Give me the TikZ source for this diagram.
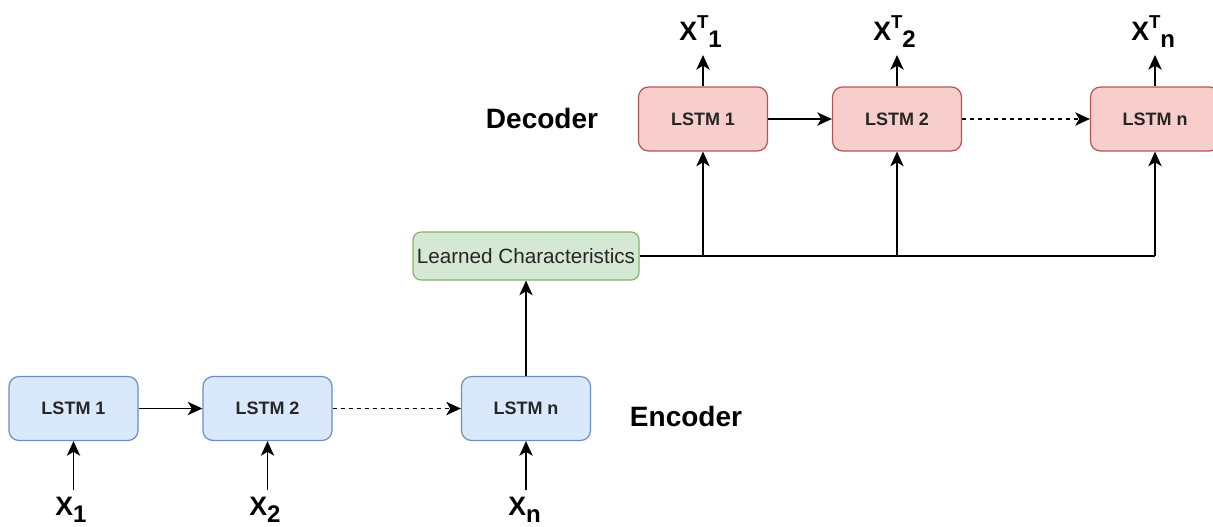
\documentclass[tikz,border=0pt]{standalone}
\usepackage{fontspec}
\setmainfont{Liberation Sans}
\usetikzlibrary{arrows.meta}
\definecolor{encfill}{HTML}{DAE8FC}
\definecolor{encdraw}{HTML}{6C8EBF}
\definecolor{decfill}{HTML}{F8CECC}
\definecolor{decdraw}{HTML}{B85450}
\definecolor{lcfill}{HTML}{D5E8D4}
\definecolor{lcdraw}{HTML}{82B366}
\newcommand\lsup[1]{\raisebox{0.42em}{\fontsize{14}{14}\selectfont #1}}
\newcommand\lsub[1]{\raisebox{-0.28em}{\fontsize{18}{18}\selectfont #1}}
\begin{document}
\begin{tikzpicture}[x=0.75pt,y=-0.75pt,
  box/.style={draw, rounded corners=7.5pt, line width=0.9pt, minimum width=96.75pt, minimum height=48pt, inner sep=0pt, font=\fontsize{13.5}{15}\selectfont\bfseries, text=black!85},
  encbox/.style={box, fill=encfill, draw=encdraw},
  decbox/.style={box, fill=decfill, draw=decdraw},
  lcbox/.style={draw=lcdraw, fill=lcfill, rounded corners=6pt, line width=0.9pt, minimum width=169.5pt, minimum height=36pt, inner sep=0pt, font=\fontsize{15.5}{17}\selectfont, text=black!85},
  xlab/.style={inner sep=0pt, font=\fontsize{20}{22}\selectfont\bfseries},
  title/.style={inner sep=0pt, font=\fontsize{21}{23}\selectfont\bfseries},
  conn/.style={line width=1.1pt, -{Stealth[length=11pt,width=10pt,inset=3pt]}},
  plain/.style={line width=1.1pt}
]
\useasboundingbox (0,0) rectangle (1213,526);
% encoder
\node[encbox] (e1) at (73.5,408.5) {LSTM 1};
\node[encbox] (e2) at (267.5,408.5) {LSTM 2};
\node[encbox] (e3) at (526,408.5) {LSTM n};
\node[title] (enc) at (686,416) {Encoder};
% learned characteristics
\node[lcbox] (lc) at (526,256) {Learned Characteristics};
% decoder
\node[decbox] (d1) at (703,119) {LSTM 1};
\node[decbox] (d2) at (897,119) {LSTM 2};
\node[decbox] (d3) at (1155,119) {LSTM n};
\node[title] (dec) at (542,118) {Decoder};
% inputs
\coordinate (i1) at (73.5,490);
\coordinate (i2) at (267.5,490);
\coordinate (i3) at (526,490);
\node[xlab, anchor=base west] (x1) at (55,515) {X\lsub{1}};
\node[xlab, anchor=base west] (x2) at (249,515) {X\lsub{2}};
\node[xlab, anchor=base west] (x3) at (508,515) {X\lsub{n}};
% outputs
\coordinate (o1) at (703,55);
\coordinate (o2) at (897,55);
\coordinate (o3) at (1155,55);
\node[xlab, anchor=base west] (y1) at (679,40) {X\lsup{T}\lsub{1}};
\node[xlab, anchor=base west] (y2) at (873,40) {X\lsup{T}\lsub{2}};
\node[xlab, anchor=base west] (y3) at (1131,40) {X\lsup{T}\lsub{n}};
% connectors
\draw[conn] (i1) -- (e1.south);
\draw[conn] (i2) -- (e2.south);
\draw[conn] (i3) -- (e3.south);
\draw[conn] (e1) -- (e2);
\draw[conn, dashed] (e2) -- (e3);
\draw[conn] (e3) -- (lc);
\draw[plain] (lc.east) -- (lc.east -| d3.south);
\draw[conn] (lc.east -| d1.south) -- (d1.south);
\draw[conn] (lc.east -| d2.south) -- (d2.south);
\draw[conn] (lc.east -| d3.south) -- (d3.south);
\draw[conn] (d1) -- (d2);
\draw[conn, dashed] (d2) -- (d3);
\draw[conn] (d1.north) -- (o1);
\draw[conn] (d2.north) -- (o2);
\draw[conn] (d3.north) -- (o3);
\end{tikzpicture}
\end{document}
